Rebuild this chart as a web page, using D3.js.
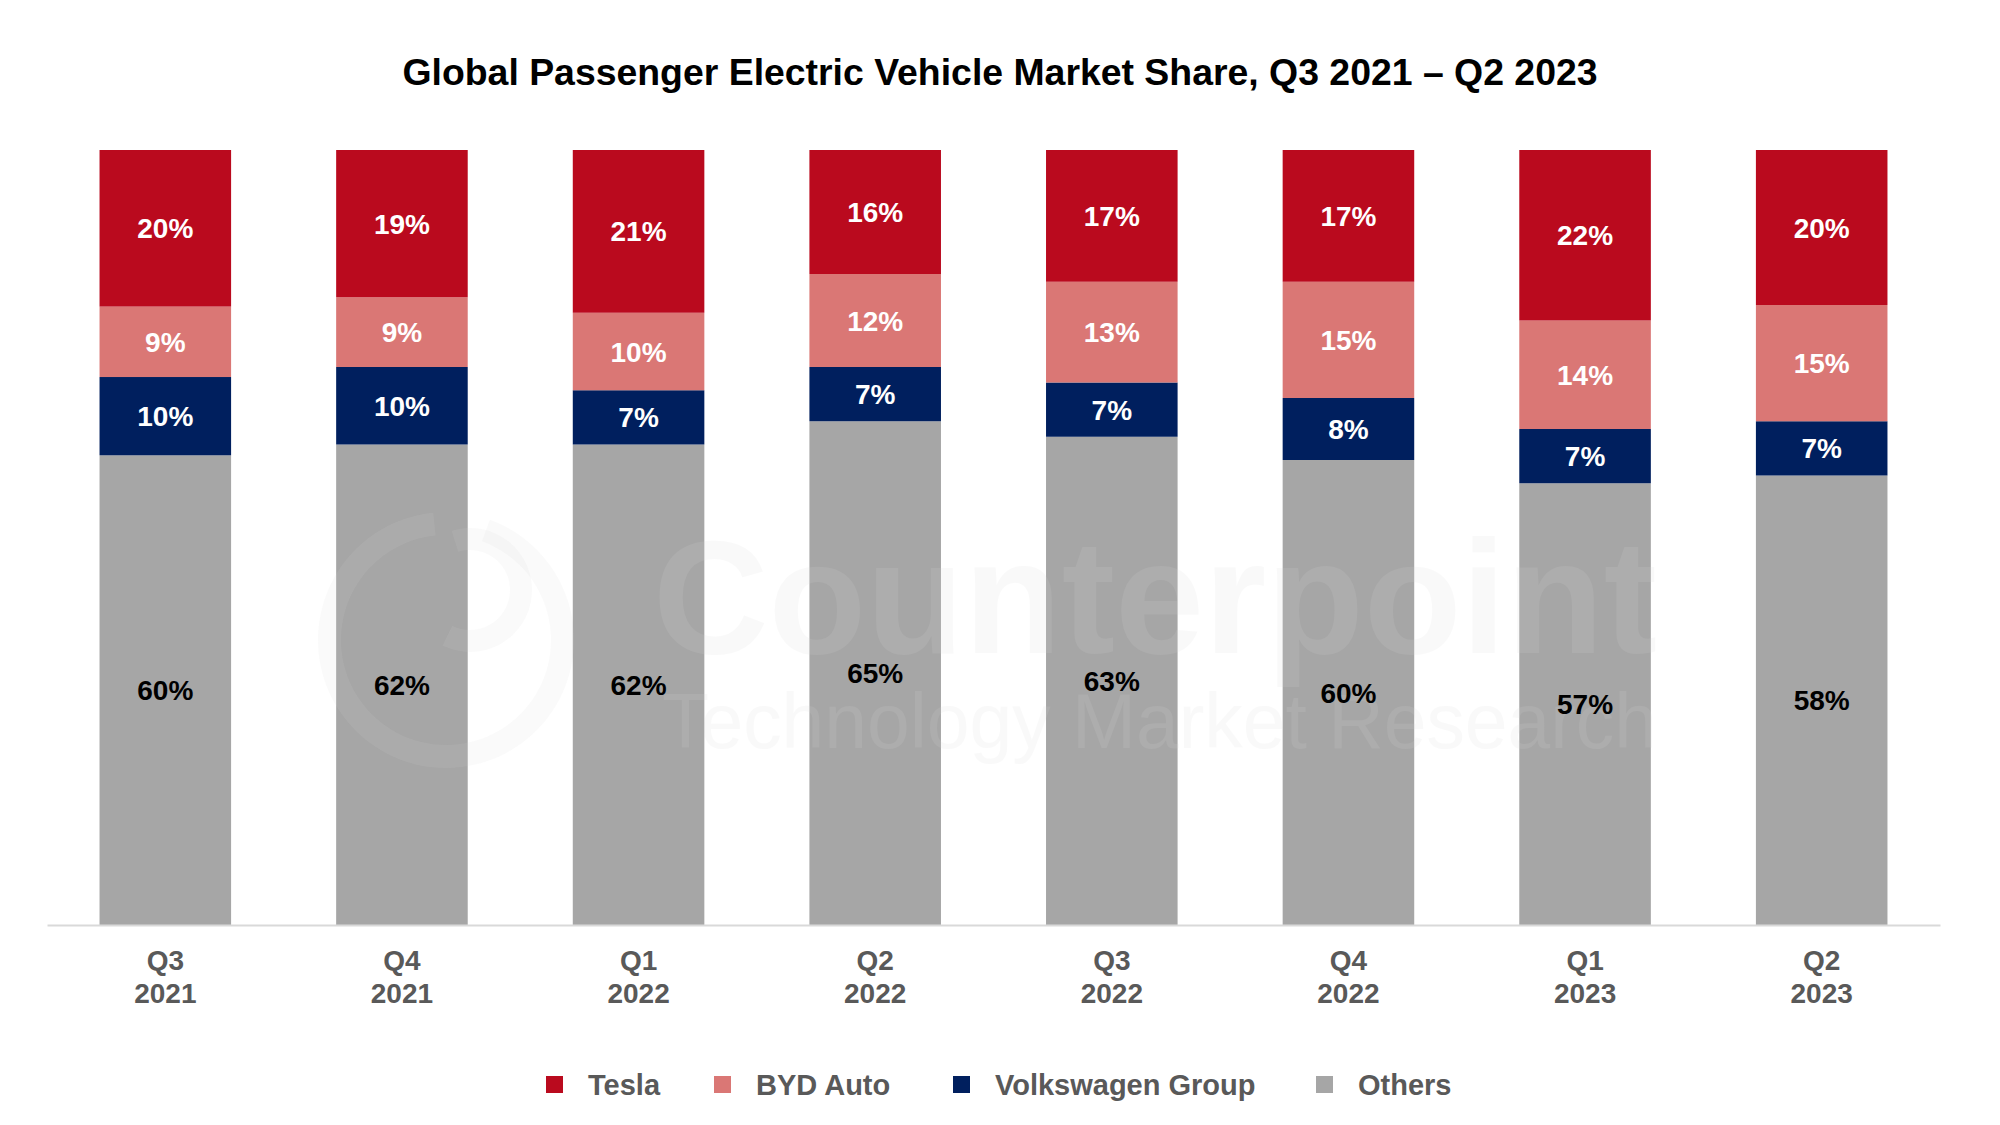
<!DOCTYPE html>
<html>
<head>
<meta charset="utf-8">
<script src="https://cdn.jsdelivr.net/npm/d3@7"></script>
<style>
  html, body { margin: 0; padding: 0; background: #ffffff; }
  svg { display: block; font-family: "Liberation Sans", Arial, sans-serif; }
</style>
</head>
<body>
<svg id="chart" width="2000" height="1125"></svg>
<script>
// ---- Data ----
const categories = ["Q3 2021", "Q4 2021", "Q1 2022", "Q2 2022", "Q3 2022", "Q4 2022", "Q1 2023", "Q2 2023"];
const seriesNames = ["Tesla", "BYD Auto", "Volkswagen Group", "Others"];
const tesla  = [20, 19, 21, 16, 17, 17, 22, 20];
const byd    = [9, 9, 10, 12, 13, 15, 14, 15];
const vw     = [10, 10, 7, 7, 7, 8, 7, 7];
const others = [60, 62, 62, 65, 63, 60, 57, 58];
const title = "Global Passenger Electric Vehicle Market Share, Q3 2021 \u2013 Q2 2023";

// ---- Styles ----
const colors = { "Tesla": "#BA0A1E", "BYD Auto": "#DA7775", "Volkswagen Group": "#001F5E", "Others": "#A6A6A6" };
const labelColors = { "Tesla": "#ffffff", "BYD Auto": "#ffffff", "Volkswagen Group": "#ffffff", "Others": "#000000" };

const seriesValues = { "Tesla": tesla, "BYD Auto": byd, "Volkswagen Group": vw, "Others": others };
const rows = categories.map((c, i) => {
  const r = { cat: c };
  seriesNames.forEach(s => r[s] = seriesValues[s][i]);
  return r;
});

const svg = d3.select("#chart");

// Stack from bottom: Others, VW, BYD, Tesla
const stackOrder = ["Others", "Volkswagen Group", "BYD Auto", "Tesla"];
const stacked = d3.stack().keys(stackOrder).offset(d3.stackOffsetExpand)(rows);

const x = d3.scaleBand().domain(categories).range([47, 1940]).paddingInner(0.444).paddingOuter(0.222);
const y = d3.scaleLinear().domain([0, 1]).range([925, 150]);

// Title
svg.append("text")
  .attr("x", 1000).attr("y", 85)
  .attr("text-anchor", "middle")
  .attr("font-size", 37.4).attr("font-weight", "bold").attr("fill", "#000")
  .text(title);

// Bars
const layer = svg.append("g").selectAll("g").data(stacked).join("g")
  .attr("fill", d => colors[d.key]);
layer.selectAll("rect").data(d => d).join("rect")
  .attr("x", d => x(d.data.cat))
  .attr("width", x.bandwidth())
  .attr("y", d => y(d[1]))
  .attr("height", d => y(d[0]) - y(d[1]));

// Watermark (faint, drawn over bars)
const wm = svg.append("g").attr("pointer-events", "none");
wm.append("path")
  .attr("transform", "translate(446,640)")
  .attr("d", d3.arc().innerRadius(105).outerRadius(128).startAngle(0.35).endAngle(2 * Math.PI - 0.1)())
  .attr("fill", "#d8d8d8").attr("opacity", 0.12);
wm.append("path")
  .attr("transform", "translate(470,590)")
  .attr("d", d3.arc().innerRadius(40).outerRadius(62).startAngle(-0.3).endAngle(3.6)())
  .attr("fill", "#d8d8d8").attr("opacity", 0.12);
wm.append("text")
  .attr("x", 653).attr("y", 653)
  .attr("font-size", 162).attr("font-weight", "bold")
  .attr("textLength", 1004).attr("lengthAdjust", "spacingAndGlyphs")
  .attr("fill", "#d8d8d8").attr("opacity", 0.14)
  .text("Counterpoint");
wm.append("text")
  .attr("x", 662).attr("y", 748)
  .attr("font-size", 77)
  .attr("textLength", 995).attr("lengthAdjust", "spacingAndGlyphs")
  .attr("fill", "#d8d8d8").attr("opacity", 0.14)
  .text("Technology Market Research");

// Value labels
const lab = svg.append("g").selectAll("g").data(stacked).join("g")
  .attr("fill", d => labelColors[d.key]);
lab.selectAll("text").data(d => d.map(v => ({ v, key: d.key }))).join("text")
  .attr("x", d => x(d.v.data.cat) + x.bandwidth() / 2)
  .attr("y", d => (y(d.v[0]) + y(d.v[1])) / 2)
  .attr("dy", "0.36em")
  .attr("text-anchor", "middle")
  .attr("font-size", 28).attr("font-weight", "bold")
  .text(d => d.v.data[d.key] + "%");

// X axis
const xAxis = svg.append("g")
  .attr("transform", "translate(0,925)")
  .call(d3.axisBottom(x).tickSize(0).tickPadding(0).tickFormat(""));
xAxis.select(".domain").attr("stroke", "#D9D9D9").attr("stroke-width", 2);
xAxis.selectAll(".tick text").remove();
xAxis.selectAll(".tick").each(function(d) {
  const parts = d.split(" ");
  const t = d3.select(this).append("text")
    .attr("text-anchor", "middle")
    .attr("font-size", 28).attr("font-weight", "bold")
    .attr("fill", "#595959");
  t.append("tspan").attr("x", 0).attr("y", 45).text(parts[0]);
  t.append("tspan").attr("x", 0).attr("y", 78).text(parts[1]);
});

// Legend
const legendX = [546, 714, 953, 1316];
const legend = svg.append("g").selectAll("g").data(seriesNames).join("g")
  .attr("transform", (d, i) => `translate(${legendX[i]},1085)`);
legend.append("rect")
  .attr("x", 0).attr("y", -9).attr("width", 17).attr("height", 17)
  .attr("fill", d => colors[d]);
legend.append("text")
  .attr("x", 42).attr("y", 0).attr("dy", "0.36em")
  .attr("font-size", 29).attr("font-weight", "bold").attr("fill", "#595959")
  .text(d => d);
</script>
</body>
</html>
